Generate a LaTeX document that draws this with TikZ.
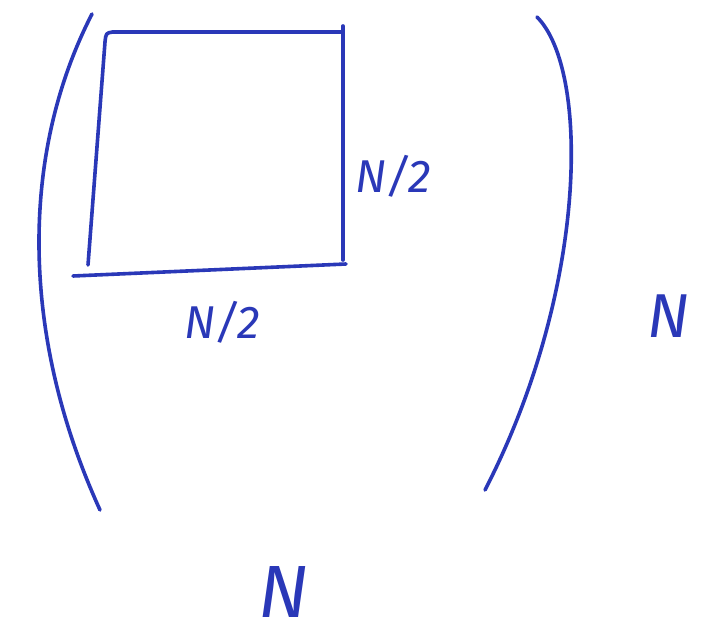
\documentclass[tikz,border=0pt]{standalone}
\usepackage{fontspec}
\setsansfont{Fira Sans}
\usepackage{tikz}
\usetikzlibrary{positioning}

\definecolor{penblue}{RGB}{42,56,184}

\tikzset{
    pen/.style={draw=penblue, line width=3.6pt, line cap=round, line join=round},
    hand/.style={text=penblue, font=\sffamily\itshape, inner sep=0pt}
}

\begin{document}
\begin{tikzpicture}[x=1pt, y=-1pt]

    % cornice
    \useasboundingbox[fill=white] (0,0) rectangle (703,639);

    % parentesi della matrice
    \draw[pen] (92,14) .. controls (22,150) and (18,330) .. (100,510); % sinistra
    \draw[pen] (537,17) .. controls (590,70) and (588,290) .. (485,490); % destra

    % blocco N/2
    \draw[pen] (113,32) -- (343,32);   % lato alto
    \draw[pen] (113,32) .. controls (106,33) .. (105,42) -- (88,265); % lato sinistro
    \draw[pen] (73,276) -- (346,264);  % lato basso
    \draw[pen] (343,26) -- (343,260);  % lato destro

    % etichette
    \node[hand, font=\sffamily\itshape\fontsize{46}{46}\selectfont] (halfright) at (393,176) {N/2};
    \node[hand, font=\sffamily\itshape\fontsize{46}{46}\selectfont] (halfbelow) at (222,322) {N/2};
    \node[hand, font=\sffamily\itshape\fontsize{62}{62}\selectfont] (fullright) at (668,316) {N};
    \node[hand, font=\sffamily\itshape\fontsize{74}{74}\selectfont] (fullbelow) at (284,592) {N};

\end{tikzpicture}
\end{document}
